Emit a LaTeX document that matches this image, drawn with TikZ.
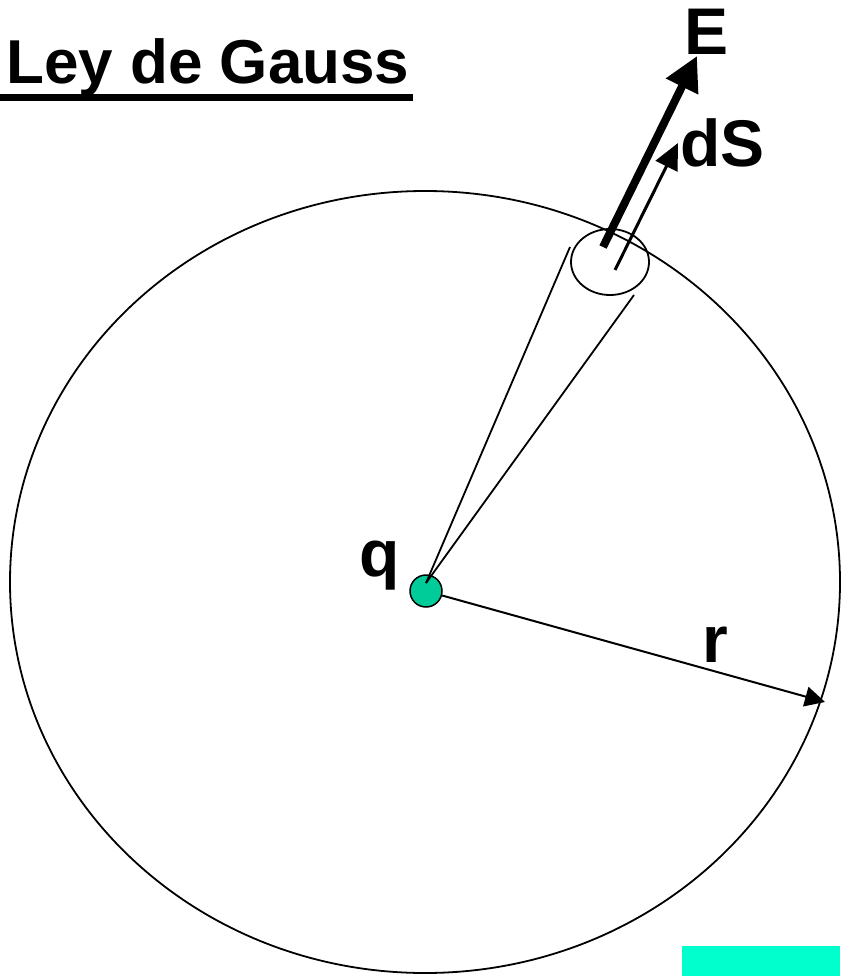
\documentclass[tikz,border=0pt]{standalone}
\usepackage{fontspec}
\setmainfont{Liberation Sans}
\usetikzlibrary{arrows.meta,shapes.geometric}
\definecolor{chargecol}{RGB}{0,204,153}
\definecolor{boxcol}{RGB}{0,255,204}
\begin{document}
\begin{tikzpicture}[x=1pt,y=-1pt,
  thinline/.style={line width=1.8pt},
  lbl/.style={font=\fontsize{66}{70}\selectfont\bfseries, inner sep=0pt, anchor=base west},
  titlestyle/.style={font=\fontsize{62}{70}\selectfont\bfseries, inner sep=0pt, anchor=base west}]
\useasboundingbox (0,0) rectangle (840,976);
% cyan box bottom right
\fill[boxcol] (682,946) rectangle (840,976);
% Gaussian surface
\draw[thinline] (425,582) ellipse [x radius=415pt, y radius=391pt];
% surface patch dS
\node[draw, ellipse, line width=1.8pt, minimum width=78pt, minimum height=66pt, inner sep=0pt] (patch) at (610,262) {};
% title
\node[titlestyle] (title) at (6,84) {Ley de Gauss};
\coordinate (ulA) at (0,97.5);
\coordinate (ulB) at (413,97.5);
\draw[line width=7pt] (ulA) -- (ulB);
% coordinates
\coordinate (apex) at (426,583);
\coordinate (coneL) at (570,247);
\coordinate (coneR) at (634,295);
\coordinate (Es) at (603,247);
\coordinate (Et) at (697,56);
\coordinate (dSs) at (615,270);
\coordinate (dSt) at (678,143);
\coordinate (rtip) at (825,702);
% charge
\node[circle, draw, fill=chargecol, line width=1.5pt, minimum size=32pt, inner sep=0pt] (q) at (426,591) {};
% radius arrow
\draw[line width=2pt, -{Triangle[length=20pt,width=20pt]}] (q) -- (rtip);
% cone
\draw[thinline] (apex) -- (coneL);
\draw[thinline] (apex) -- (coneR);
% E and dS arrows
\draw[line width=8pt, -{Triangle[length=34pt,width=34pt]}] (Es) -- (Et);
\draw[line width=3pt, -{Triangle[length=26pt,width=24pt]}] (dSs) -- (dSt);
% labels
\node[lbl] (Elbl) at (684,55) {E};
\node[lbl] (dSlbl) at (680,167) {dS};
\node[lbl] (qlbl) at (359,576) {q};
\node[lbl] (rlbl) at (702,662) {r};
\end{tikzpicture}
\end{document}
